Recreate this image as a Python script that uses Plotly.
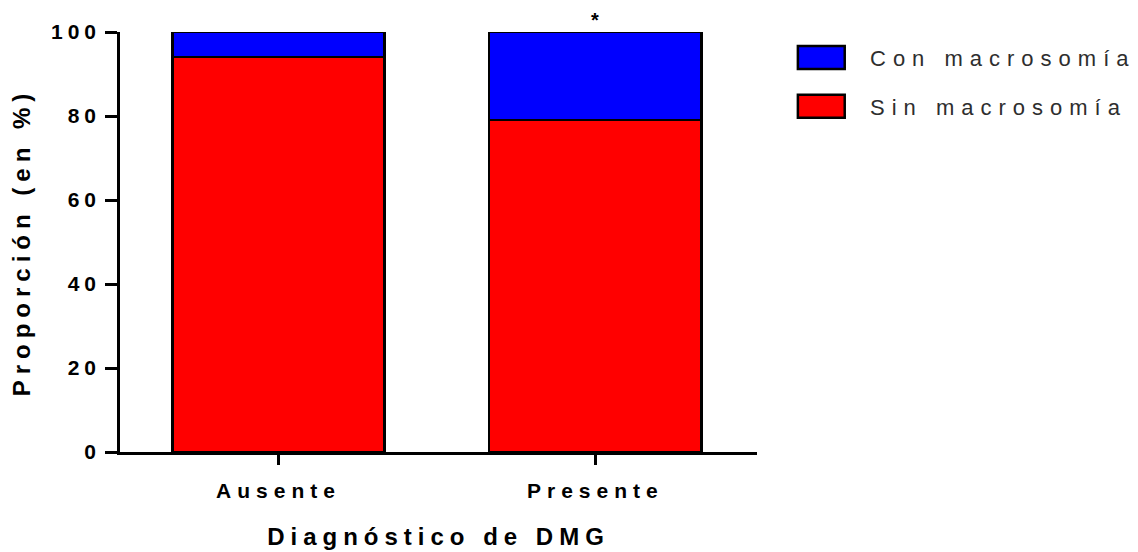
import plotly.graph_objects as go

categories = ["Ausente", "Presente"]
series_names = ["Sin macrosomía", "Con macrosomía"]
sin_macrosomia = [94, 79]
con_macrosomia = [6, 21]
series_colors = ["#FF0000", "#0000FF"]
y_tick_values = [0, 20, 40, 60, 80, 100]
y_tick_labels = ["0", "20", "40", "60", "80", "100"]
x_title = "Diagnóstico de DMG"
y_title = "Proporción (en %)"
significance_mark = "*"

FONT = "Liberation Sans, Arial, sans-serif"

# page is rendered with an 8px body margin; compensate in the layout
OFF = 8
plot_left_px, plot_right_px = 118, 757
plot_top_px, plot_bottom_px = 31, 452
W, H = 1138, 552
m_l = plot_left_px - OFF
m_t = plot_top_px - OFF
m_r = W - (plot_right_px - OFF)
m_b = H - (plot_bottom_px - OFF)
plot_w = plot_right_px - plot_left_px
plot_h = plot_bottom_px - plot_top_px


def spaced(t, px=6, bold=True):
    inner = f"<span style='letter-spacing:{px}px'>{t}</span>"
    return f"<b>{inner}</b>" if bold else inner


fig = go.Figure()
for name, vals, col in zip(series_names, [sin_macrosomia, con_macrosomia], series_colors):
    fig.add_trace(go.Bar(
        x=categories, y=vals, name=name,
        marker=dict(color=col, line=dict(color="black", width=2.5)),
        width=0.67, cliponaxis=False, showlegend=False,
    ))

fig.update_layout(
    width=W, height=H,
    barmode="stack",
    plot_bgcolor="white", paper_bgcolor="white",
    margin=dict(l=m_l, r=m_r, t=m_t, b=m_b),
    font=dict(family=FONT, color="black", size=21),
)

fig.update_xaxes(
    range=[-0.5, 1.51],
    tickmode="array", tickvals=categories,
    ticktext=[spaced(c, 6) for c in categories],
    ticks="outside", ticklen=10, tickwidth=2.5, tickcolor="black",
    showline=True, linecolor="black", linewidth=2.5,
    showgrid=False, zeroline=False,
    tickfont=dict(size=21, family=FONT),
    ticklabelstandoff=8,
    title=dict(text=spaced(x_title, 6), font=dict(size=24, family=FONT), standoff=28),
)
fig.update_yaxes(
    range=[0, 100],
    tickmode="array", tickvals=y_tick_values,
    ticktext=[spaced(t, 5) for t in y_tick_labels],
    ticks="outside", ticklen=12, tickwidth=2.5, tickcolor="black",
    showline=True, linecolor="black", linewidth=2.5,
    showgrid=False, zeroline=False,
    tickfont=dict(size=21, family=FONT),
    title=dict(text=spaced(y_title, 6), font=dict(size=24, family=FONT), standoff=14),
)

# significance mark above Presente
fig.add_annotation(
    x=categories[1], y=100, xref="x", yref="y",
    text=f"<b>{significance_mark}</b>", showarrow=False,
    yanchor="bottom", yshift=0, borderpad=0,
    font=dict(size=20, family=FONT, color="black"),
)


def px_x(X):
    return (X - plot_left_px) / plot_w


def px_y(Y):
    return 1 - (Y - plot_top_px) / plot_h


# custom legend (Con on top, Sin below)
legend_items = [(series_names[1], series_colors[1], 45), (series_names[0], series_colors[0], 94)]
for name, col, top in legend_items:
    fig.add_shape(
        type="rect", xref="paper", yref="paper",
        x0=px_x(798), x1=px_x(845), y0=px_y(top), y1=px_y(top + 23),
        fillcolor=col, line=dict(color="black", width=2.5),
    )
    fig.add_annotation(
        xref="paper", yref="paper", x=px_x(868), y=px_y(top + 13),
        xanchor="left", yanchor="middle", showarrow=False,
        text=spaced(name, 7, bold=False),
        font=dict(size=22, family=FONT, color="#2e2e2e"),
    )

fig.write_html("out.html")
